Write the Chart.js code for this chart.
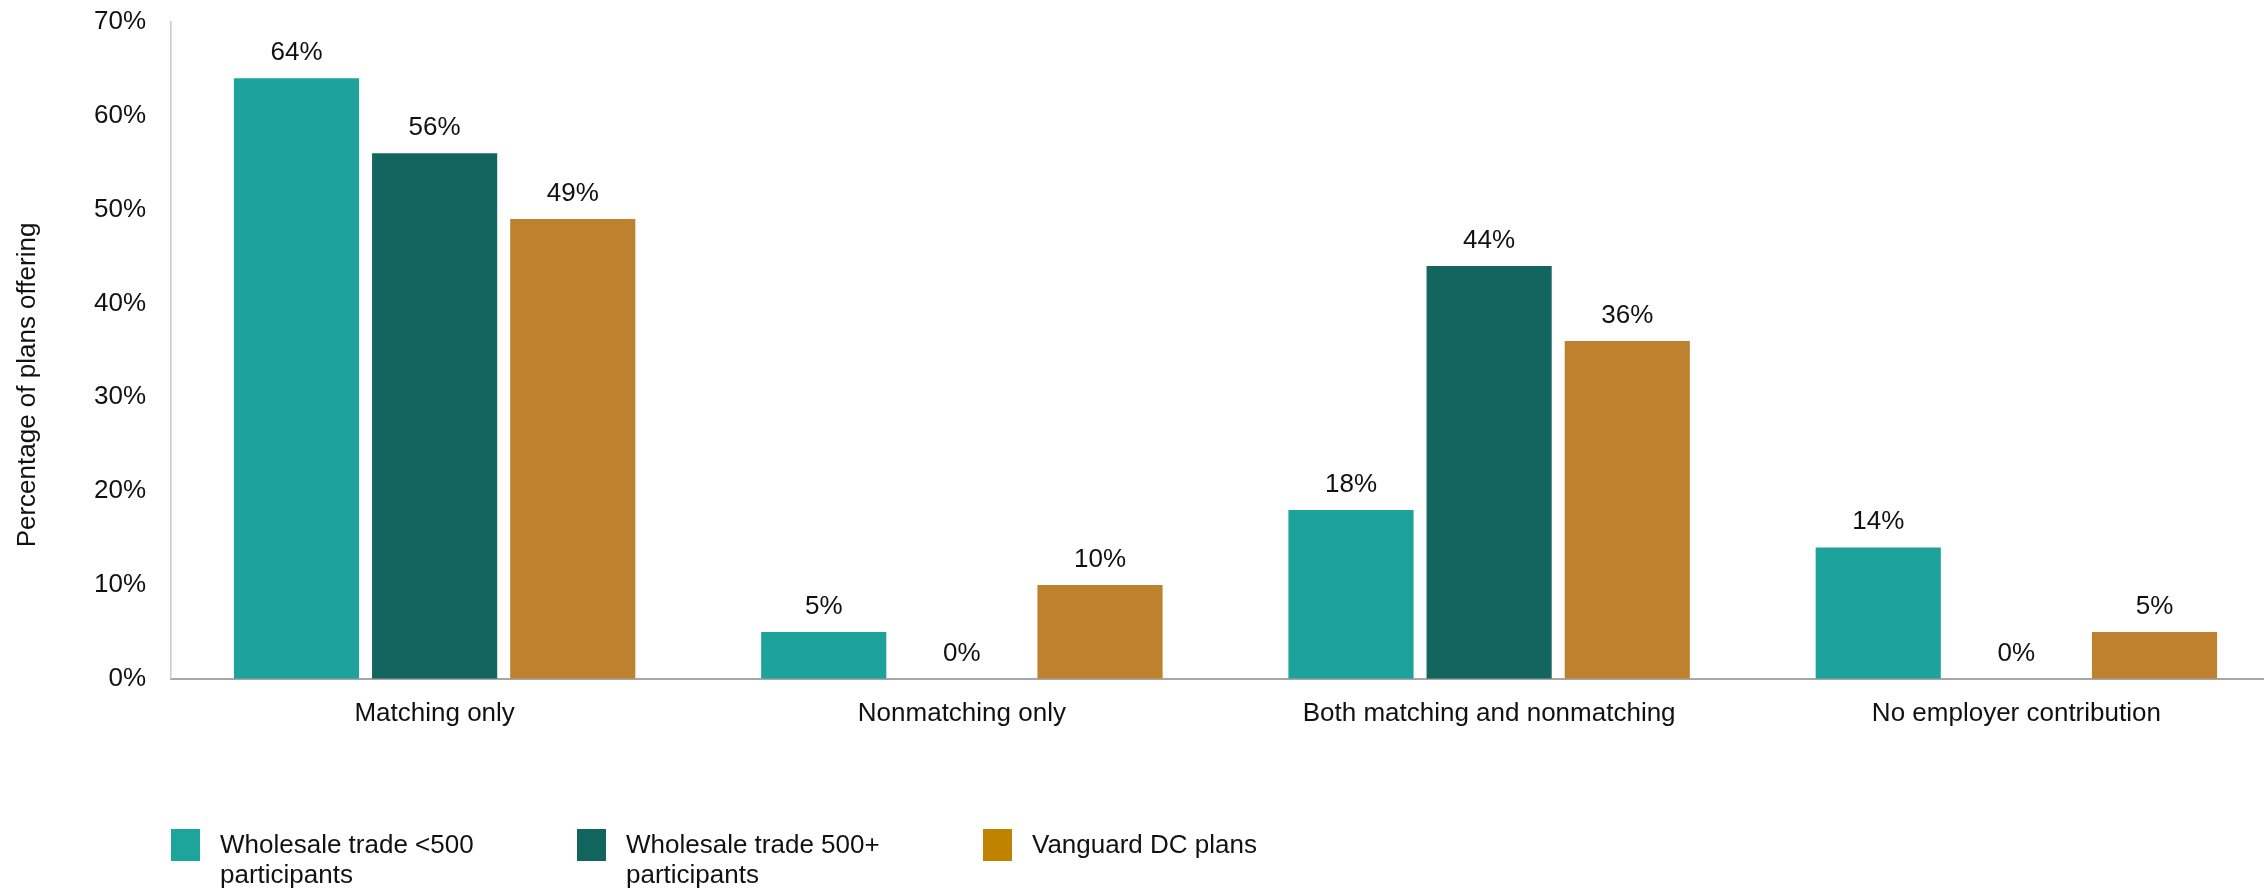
<!DOCTYPE html>
<html>
<head>
<meta charset="utf-8">
<title>Employer contributions</title>
<script src="https://cdn.jsdelivr.net/npm/chart.js@4.4.1/dist/chart.umd.min.js"></script>
<style>
    html, body { margin: 0; padding: 0; background: #fff; overflow: hidden; }
    #wrap { position: relative; width: 2300px; height: 892px; }
</style>
</head>
<body>
<div id="wrap"><canvas id="chart"></canvas></div>
<script>
// 数据
const categories = ['Matching only', 'Nonmatching only', 'Both matching and nonmatching', 'No employer contribution'];
const smallWholesale = [64, 5, 18, 14];
const largeWholesale = [56, 0, 44, 0];
const vanguardPlans = [49, 10, 36, 5];
const yTicks = [0, 10, 20, 30, 40, 50, 60, 70];
const seriesNames = [
    ['Wholesale trade <500', 'participants'],
    ['Wholesale trade 500+', 'participants'],
    ['Vanguard DC plans']
];

const FONT = "'Liberation Sans', Arial, sans-serif";
const TEXT_COLOR = '#111';
const barColors = ['#1da39b', '#136560', '#be812e'];
const legendColors = ['#1da59c', '#12655f', '#c08300'];

// 柱顶数值标签
const valueLabels = {
    id: 'valueLabels',
    afterDatasetsDraw(chart) {
        const ctx = chart.ctx;
        ctx.save();
        ctx.font = '26px ' + FONT;
        ctx.fillStyle = TEXT_COLOR;
        ctx.textAlign = 'center';
        ctx.textBaseline = 'alphabetic';
        chart.data.datasets.forEach((ds, di) => {
            chart.getDatasetMeta(di).data.forEach((bar, i) => {
                ctx.fillText(ds.data[i] + '%', bar.x, bar.y - 18);
            });
        });
        ctx.restore();
    }
};

// 纵轴标题
const axisTitle = {
    id: 'axisTitle',
    afterDraw(chart) {
        const ctx = chart.ctx;
        ctx.save();
        ctx.translate(28, 385);
        ctx.rotate(-Math.PI / 2);
        ctx.font = '26px ' + FONT;
        ctx.fillStyle = TEXT_COLOR;
        ctx.textAlign = 'center';
        ctx.textBaseline = 'middle';
        ctx.fillText('Percentage of plans offering', 0, 0);
        ctx.restore();
    }
};

// 底部图例（支持两行文字）
const bottomLegend = {
    id: 'bottomLegend',
    afterDraw(chart) {
        const ctx = chart.ctx;
        const left = chart.chartArea.left;
        const step = 406;
        const top = 829;
        ctx.save();
        ctx.font = '26px ' + FONT;
        ctx.fillStyle = TEXT_COLOR;
        ctx.textBaseline = 'middle';
        seriesNames.forEach((lines, i) => {
            const x = left + i * step;
            ctx.fillStyle = legendColors[i];
            ctx.fillRect(x, top, 29, 32);
            ctx.fillStyle = TEXT_COLOR;
            lines.forEach((line, j) => {
                ctx.fillText(line, x + 49, top + 17 + j * 30);
            });
        });
        ctx.restore();
    }
};

const ctx = document.getElementById('chart').getContext('2d');
new Chart(ctx, {
    type: 'bar',
    data: {
        labels: categories,
        datasets: [
            { label: seriesNames[0].join(' '), data: smallWholesale, backgroundColor: barColors[0] },
            { label: seriesNames[1].join(' '), data: largeWholesale, backgroundColor: barColors[1] },
            { label: seriesNames[2].join(' '), data: vanguardPlans, backgroundColor: barColors[2] }
        ]
    },
    options: {
        responsive: true,
        maintainAspectRatio: false,
        animation: false,
        categoryPercentage: 0.786,
        barPercentage: 0.906,
        layout: { padding: { top: 22, right: 20, bottom: 144, left: 0 } },
        plugins: {
            legend: { display: false },
            tooltip: { enabled: false }
        },
        scales: {
            x: {
                grid: { display: false, drawTicks: false },
                border: { display: true, color: '#a6a6a6', width: 2 },
                ticks: {
                    padding: 19,
                    color: TEXT_COLOR,
                    font: { family: FONT, size: 26 },
                    maxRotation: 0,
                    autoSkip: false
                }
            },
            y: {
                min: 0,
                max: 70,
                afterBuildTicks: (scale) => { scale.ticks = yTicks.map(v => ({ value: v })); },
                afterFit: (scale) => {
                    scale.width = 171;
                    scale.paddingTop = 0;
                    scale.paddingBottom = 0;
                },
                grid: { display: false, drawTicks: false },
                border: { display: true, color: '#c9c9c9', width: 1.5 },
                ticks: {
                    padding: 25,
                    color: TEXT_COLOR,
                    font: { family: FONT, size: 26 },
                    callback: (v) => v + '%'
                }
            }
        }
    },
    plugins: [valueLabels, axisTitle, bottomLegend]
});
</script>
</body>
</html>
